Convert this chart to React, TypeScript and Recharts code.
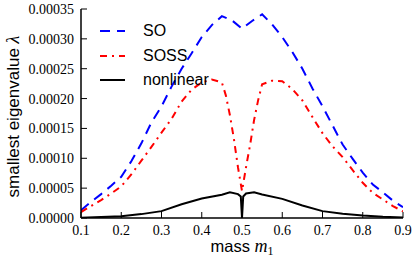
import React from 'react';
import { LineChart, Line, XAxis, YAxis, Legend } from 'recharts';

const xTicks = [0.1, 0.2, 0.3, 0.4, 0.5, 0.6, 0.7, 0.8, 0.9];
const yTicks = [0, 0.00005, 0.0001, 0.00015, 0.0002, 0.00025, 0.0003, 0.00035];

const soMass = [0.1, 0.125, 0.15, 0.175, 0.2, 0.225, 0.25, 0.275, 0.3, 0.325, 0.35, 0.375, 0.4, 0.425, 0.45, 0.475, 0.5, 0.525, 0.55, 0.575, 0.6, 0.625, 0.65, 0.675, 0.7, 0.725, 0.75, 0.775, 0.8, 0.825, 0.85, 0.875, 0.9];
const soValues = [1.3e-5, 2.7e-5, 4.0e-5, 5.4e-5, 6.9e-5, 9.5e-5, 1.25e-4, 1.6e-4, 1.87e-4, 2.2e-4, 2.5e-4, 2.76e-4, 3.03e-4, 3.23e-4, 3.38e-4, 3.31e-4, 3.17e-4, 3.3e-4, 3.41e-4, 3.24e-4, 3.03e-4, 2.78e-4, 2.5e-4, 2.17e-4, 1.87e-4, 1.55e-4, 1.23e-4, 9.9e-5, 7.6e-5, 5.6e-5, 4.3e-5, 2.9e-5, 1.8e-5];

const sossMass = [0.1, 0.125, 0.15, 0.175, 0.2, 0.225, 0.25, 0.275, 0.3, 0.325, 0.35, 0.375, 0.4, 0.425, 0.45, 0.46, 0.47, 0.48, 0.49, 0.5, 0.51, 0.52, 0.53, 0.54, 0.55, 0.575, 0.6, 0.625, 0.65, 0.675, 0.7, 0.725, 0.75, 0.775, 0.8, 0.825, 0.85, 0.875, 0.9];
const sossValues = [1.0e-5, 2.0e-5, 3.0e-5, 4.1e-5, 5.3e-5, 7.3e-5, 9.6e-5, 1.19e-4, 1.43e-4, 1.66e-4, 1.95e-4, 2.15e-4, 2.27e-4, 2.32e-4, 2.27e-4, 2.05e-4, 1.72e-4, 1.32e-4, 8.5e-5, 4.5e-5, 8.5e-5, 1.22e-4, 1.64e-4, 1.97e-4, 2.24e-4, 2.3e-4, 2.29e-4, 2.16e-4, 1.97e-4, 1.69e-4, 1.42e-4, 1.2e-4, 1.02e-4, 8.0e-5, 5.9e-5, 4.2e-5, 3.1e-5, 2.0e-5, 1.1e-5];

const nonlinearMass = [0.1, 0.15, 0.2, 0.25, 0.3, 0.35, 0.4, 0.45, 0.47, 0.49, 0.497, 0.5, 0.503, 0.51, 0.53, 0.55, 0.6, 0.65, 0.7, 0.75, 0.8, 0.85, 0.9];
const nonlinearValues = [5e-7, 1.5e-6, 3e-6, 6.5e-6, 1.15e-5, 2.3e-5, 3.25e-5, 3.9e-5, 4.3e-5, 4.0e-5, 3.6e-5, 0, 3.6e-5, 4.1e-5, 4.3e-5, 3.95e-5, 3.2e-5, 2.1e-5, 1.15e-5, 7e-6, 4e-6, 2e-6, 1e-6];

const seriesNames = ['SO', 'SOSS', 'nonlinear'];
const seriesColors = ['#0000ff', '#ff0000', '#000000'];
const seriesDashes = ['10 7', '7 5 2 5', undefined];

const toRows = (m: number[], v: number[]) => m.map((x, i) => ({ mass: x, value: v[i] }));
const soData = toRows(soMass, soValues);
const sossData = toRows(sossMass, sossValues);
const nonlinearData = toRows(nonlinearMass, nonlinearValues);

const SANS = '"Liberation Sans", Arial, sans-serif';
const SERIF = '"Liberation Serif", "Times New Roman", serif';

const tickStyle = { fontFamily: SERIF, fontSize: 14, fill: '#000' };

const renderLegend = () => (
  <div style={{ fontFamily: SANS, fontSize: 16, color: '#000' }}>
    {seriesNames.map((name, i) => (
      <div key={name} style={{ display: 'flex', alignItems: 'center', height: 24.5 }}>
        <svg width={25} height={4} style={{ display: 'block' }}>
          <line x1={0} y1={2} x2={25} y2={2} stroke={seriesColors[i]} strokeWidth={2} strokeDasharray={seriesDashes[i]} />
        </svg>
        <span style={{ marginLeft: 18, lineHeight: '16px' }}>{name}</span>
      </div>
    ))}
  </div>
);

const XLabel = (props: any) => {
  const vb = props.viewBox || {};
  const cx = vb.x + vb.width / 2;
  const y = vb.y + 34;
  return (
    <text x={cx} y={y} textAnchor="middle" fill="#000" fontFamily={SANS} fontSize={16.5}>
      <tspan>mass </tspan>
      <tspan fontFamily={SERIF} fontStyle="italic" fontSize={18}>m</tspan>
      <tspan fontFamily={SERIF} fontSize={12} dy={3}>1</tspan>
    </text>
  );
};

const YLabel = (props: any) => {
  const vb = props.viewBox || {};
  const x = vb.x + 19;
  const cy = vb.y + vb.height / 2 + 3;
  return (
    <text x={x} y={cy} textAnchor="middle" fill="#000" fontFamily={SANS} fontSize={17} transform={`rotate(-90, ${x}, ${cy})`}>
      <tspan>smallest eigenvalue </tspan>
      <tspan fontFamily={SERIF} fontStyle="italic" fontSize={18}>λ</tspan>
    </text>
  );
};

export default function App() {
  return (
    <div style={{ position: 'absolute', left: 0, top: 0 }}>
      <LineChart width={415} height={257} margin={{ top: 9, right: 12, bottom: 0, left: 0 }}>
        <XAxis
          xAxisId="bottom"
          type="number"
          dataKey="mass"
          domain={[0.1, 0.9]}
          ticks={xTicks}
          allowDataOverflow
          height={39}
          tickSize={-6}
          tickMargin={13}
          tick={tickStyle}
          tickFormatter={(v: number) => v.toFixed(1)}
          stroke="#000"
          axisLine={{ stroke: '#000', strokeWidth: 1.5 }}
          tickLine={{ stroke: '#000', strokeWidth: 1 }}
          label={<XLabel />}
        />
        <XAxis
          xAxisId="top"
          orientation="top"
          type="number"
          dataKey="mass"
          domain={[0.1, 0.9]}
          ticks={xTicks}
          allowDataOverflow
          height={0}
          tickSize={-6}
          tickFormatter={() => ''}
          axisLine={{ stroke: '#000', strokeWidth: 1.5 }}
          tickLine={{ stroke: '#000', strokeWidth: 1 }}
        />
        <YAxis
          yAxisId="left"
          type="number"
          domain={[0, 0.00035]}
          ticks={yTicks}
          allowDataOverflow
          width={81}
          tickSize={-6}
          tickMargin={13}
          tick={tickStyle}
          tickFormatter={(v: number) => v.toFixed(5)}
          axisLine={{ stroke: '#000', strokeWidth: 1.5 }}
          tickLine={{ stroke: '#000', strokeWidth: 1 }}
          label={<YLabel />}
        />
        <YAxis
          yAxisId="right"
          orientation="right"
          type="number"
          domain={[0, 0.00035]}
          ticks={yTicks}
          allowDataOverflow
          width={0}
          tickSize={-6}
          tickFormatter={() => ''}
          axisLine={{ stroke: '#000', strokeWidth: 1.5 }}
          tickLine={{ stroke: '#000', strokeWidth: 1 }}
        />
        <Legend
          layout="vertical"
          align="center"
          verticalAlign="middle"
          content={renderLegend}
          wrapperStyle={{ left: 100, top: 18.75, width: 'auto', height: 'auto' }}
        />
        <Line xAxisId="bottom" yAxisId="left" data={soData} dataKey="value" name={seriesNames[0]} type="linear" stroke={seriesColors[0]} strokeWidth={2} strokeDasharray={seriesDashes[0]} dot={false} isAnimationActive={false} />
        <Line xAxisId="bottom" yAxisId="left" data={sossData} dataKey="value" name={seriesNames[1]} type="linear" stroke={seriesColors[1]} strokeWidth={2} strokeDasharray={seriesDashes[1]} dot={false} isAnimationActive={false} />
        <Line xAxisId="bottom" yAxisId="left" data={nonlinearData} dataKey="value" name={seriesNames[2]} type="linear" stroke={seriesColors[2]} strokeWidth={2} dot={false} isAnimationActive={false} />
      </LineChart>
    </div>
  );
}
